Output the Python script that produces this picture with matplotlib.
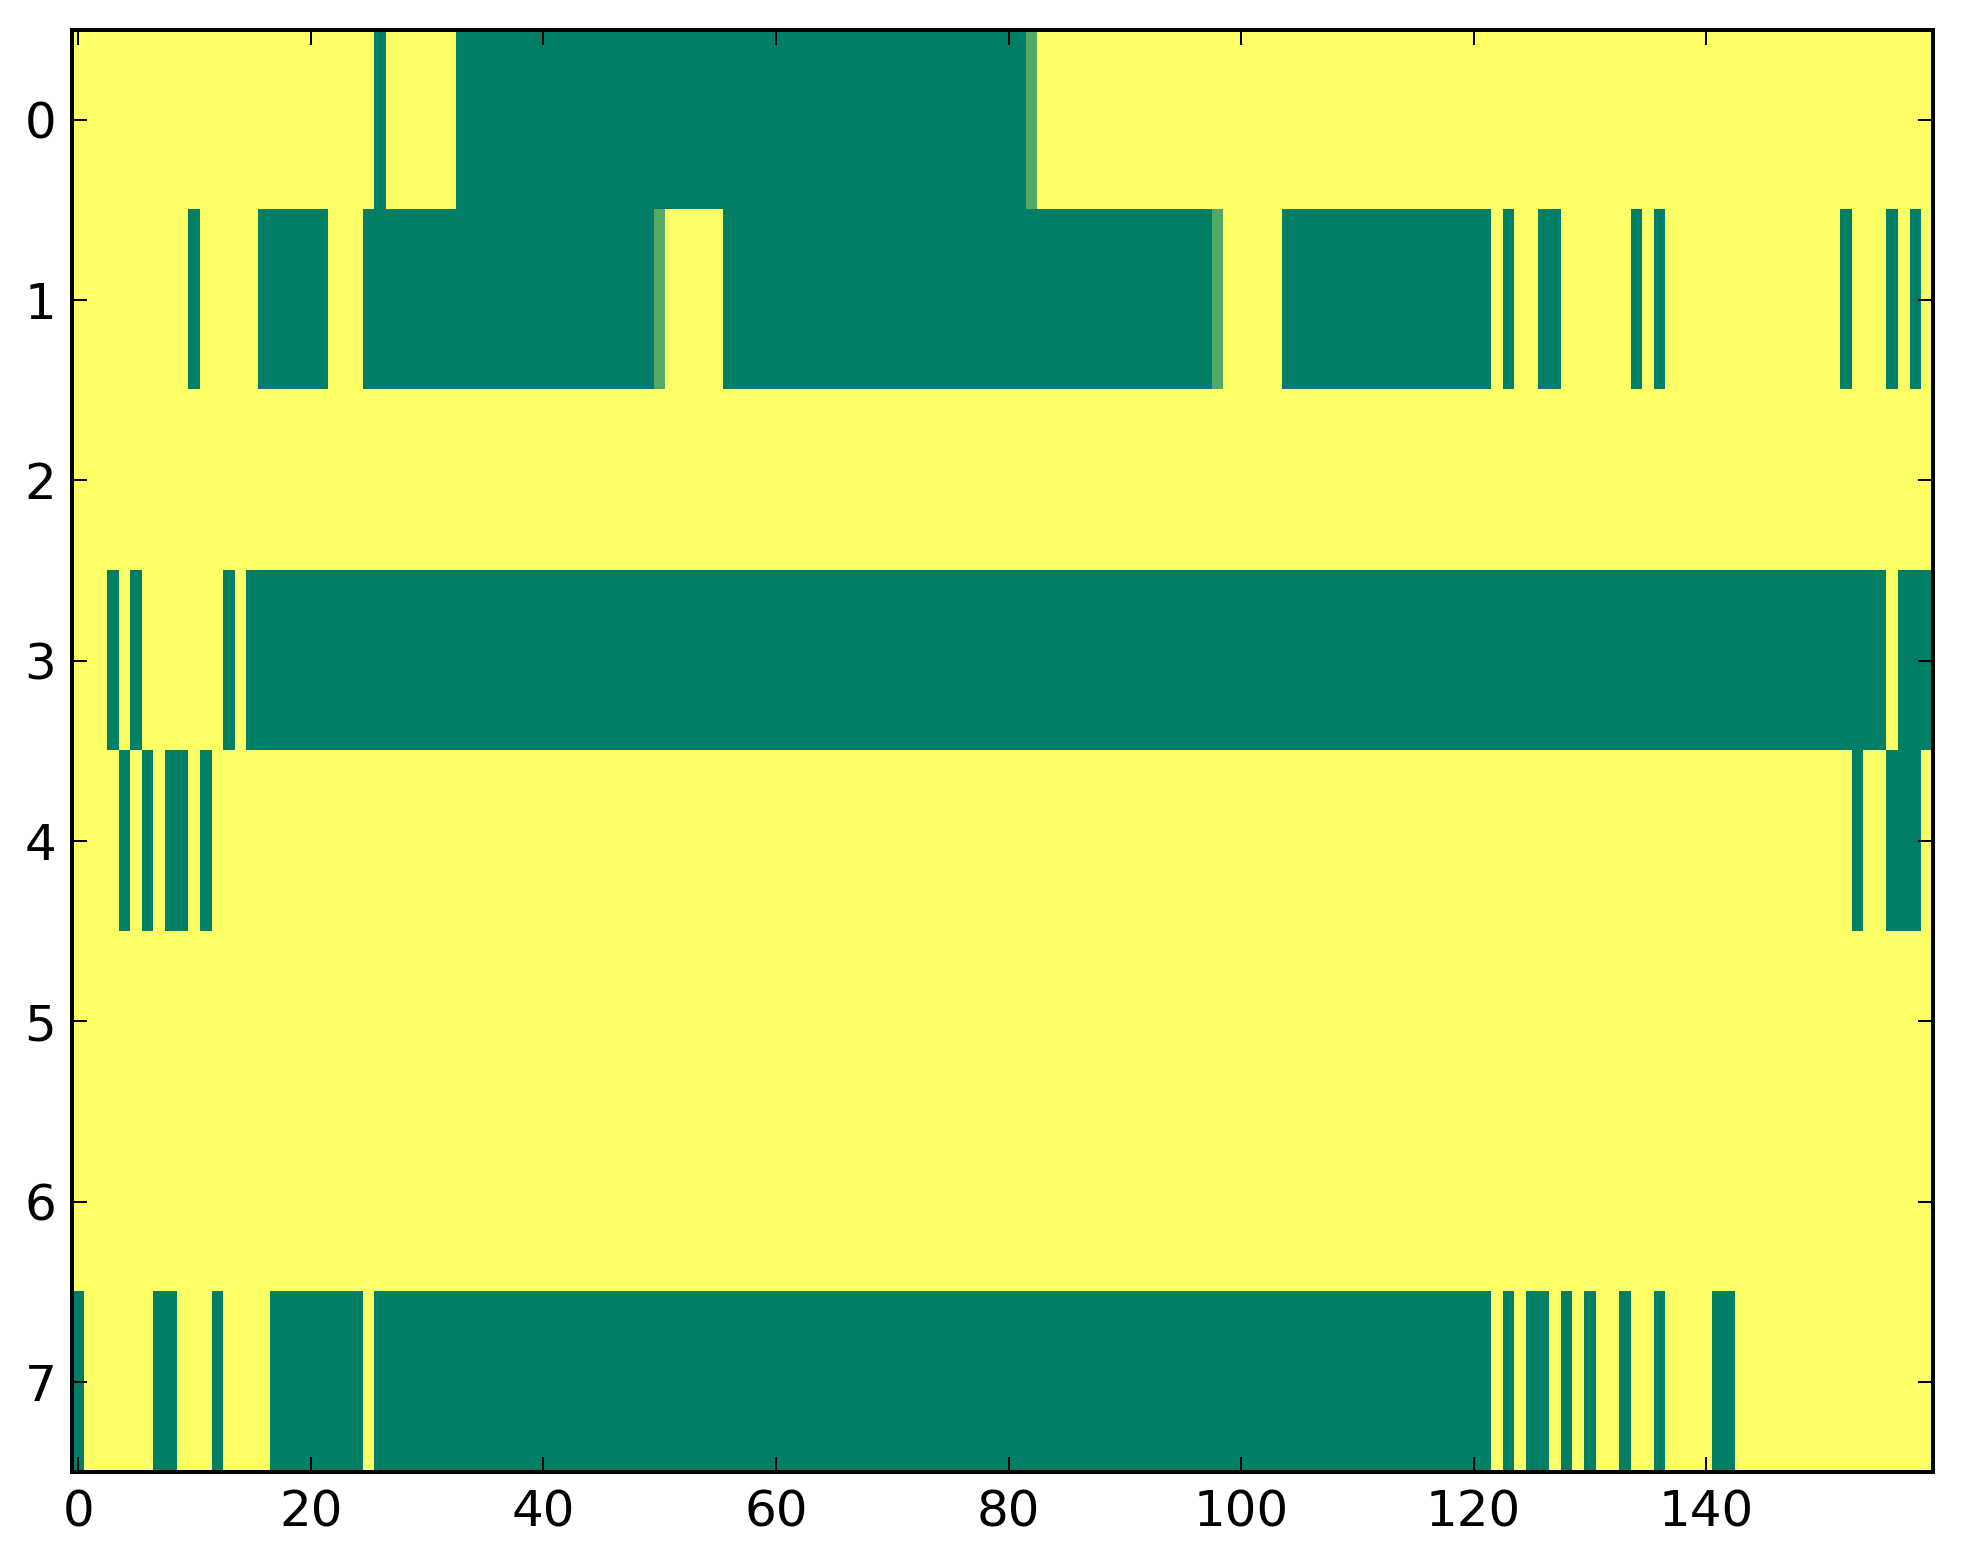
import numpy as np
import matplotlib
matplotlib.use("Agg")
import matplotlib.pyplot as plt

# one string per row, 160 columns, grouped by 10
# '1' -> 1.0 (yellow), '0' -> 0.0 (green), 'h' -> 0.33 (light green)
row0 = "1111111111 1111111111 1111110111 1110000000 0000000000 0000000000 0000000000 0000000000 00h1111111 1111111111 1111111111 1111111111 1111111111 1111111111 1111111111 1111111111"
row1 = "1111111111 0111110000 0011100000 0000000000 0000000000 h111110000 0000000000 0000000000 0000000000 00000000h1 1111000000 0000000000 0010110011 1111010111 1111111111 1101110101"
row2 = "1111111111 1111111111 1111111111 1111111111 1111111111 1111111111 1111111111 1111111111 1111111111 1111111111 1111111111 1111111111 1111111111 1111111111 1111111111 1111111111"
row3 = "1110101111 1110100000 0000000000 0000000000 0000000000 0000000000 0000000000 0000000000 0000000000 0000000000 0000000000 0000000000 0000000000 0000000000 0000000000 0000001000"
row4 = "1111010100 1011111111 1111111111 1111111111 1111111111 1111111111 1111111111 1111111111 1111111111 1111111111 1111111111 1111111111 1111111111 1111111111 1111111111 1110110001"
row5 = "1111111111 1111111111 1111111111 1111111111 1111111111 1111111111 1111111111 1111111111 1111111111 1111111111 1111111111 1111111111 1111111111 1111111111 1111111111 1111111111"
row6 = "1111111111 1111111111 1111111111 1111111111 1111111111 1111111111 1111111111 1111111111 1111111111 1111111111 1111111111 1111111111 1111111111 1111111111 1111111111 1111111111"
row7 = "0111111001 1101111000 0000010000 0000000000 0000000000 0000000000 0000000000 0000000000 0000000000 0000000000 0000000000 0000000000 0010100101 0110110111 1001111111 1111111111"

codes = {'0': 0.0, '1': 1.0, 'h': 0.33}
rows = [row0, row1, row2, row3, row4, row5, row6, row7]


def parse(row):
    return [codes[c] for c in row.replace(" ", "")]


data = np.array([parse(r) for r in rows])

dpi = 200
fig = plt.figure(figsize=(1963 / dpi, 1564 / dpi), dpi=dpi)
ax = fig.add_axes([0.0369, 0.0588, 0.9478, 0.9223])

ax.imshow(data, cmap="summer", vmin=0, vmax=1, aspect="auto", interpolation="nearest")

ax.set_xticks(np.arange(0, 160, 20))
ax.set_yticks(np.arange(0, 8, 1))
ax.tick_params(direction="in", length=5.4, width=0.72, pad=5.8, labelsize=18,
               top=True, right=True, labelcolor="black")
for sp in ax.spines.values():
    sp.set_linewidth(1.44)

fig.savefig("out.png", dpi=dpi)
